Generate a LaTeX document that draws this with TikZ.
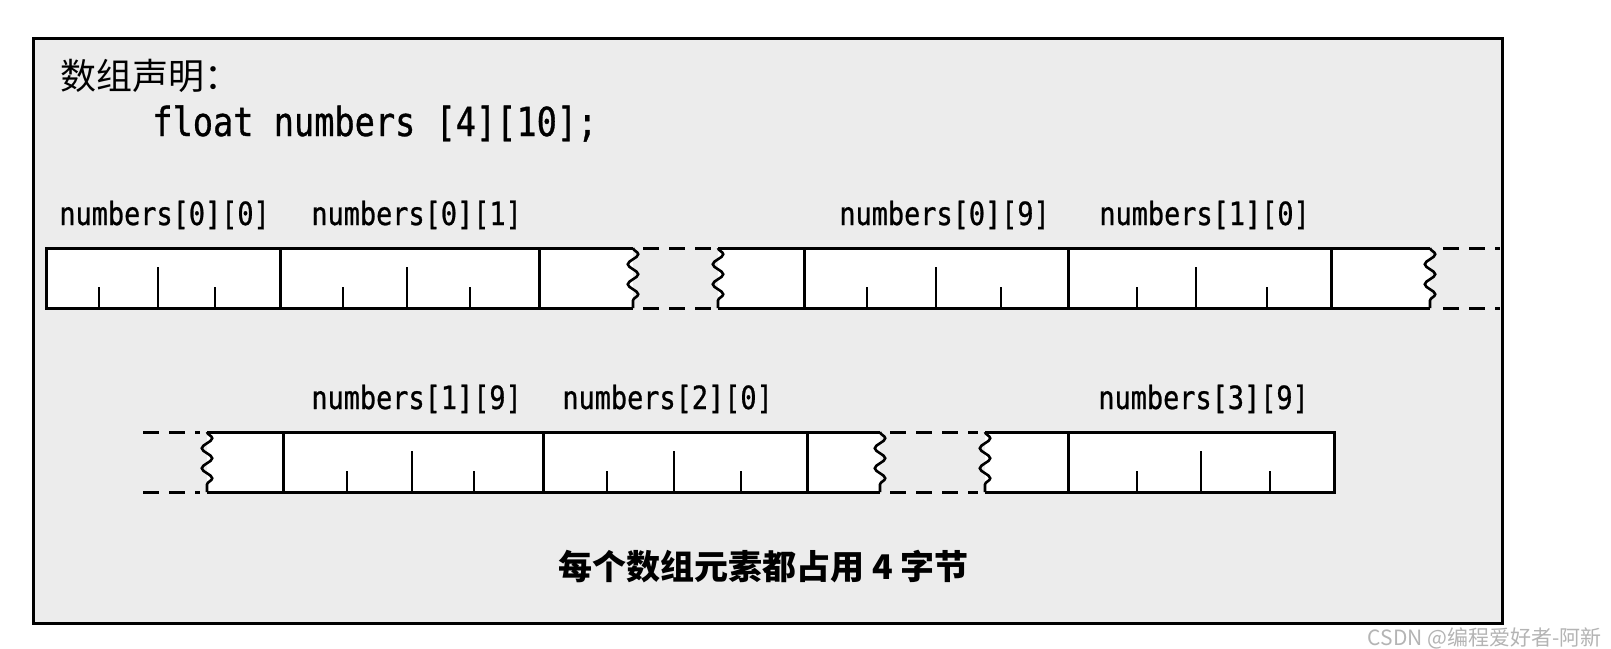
\documentclass[tikz,border=0pt]{standalone}
\usepackage{fontspec}
\usetikzlibrary{decorations.pathmorphing}
\newfontfamily\cjk{Noto Sans CJK SC}
\newfontfamily\codefont[FakeStretch=0.84,FakeBold=0.8]{DejaVu Sans Mono}
\definecolor{panel}{RGB}{236,236,236}
\definecolor{wm}{RGB}{180,180,180}
\begin{document}
\begin{tikzpicture}[x=0.5pt,y=-0.5pt,
  cellline/.style={line width=1.5pt},
  tickline/.style={line width=1.3pt},
  zig/.style={line width=1.3pt, decorate, decoration={snake, segment length=10pt, amplitude=2.6pt}},
  dashline/.style={line width=1.5pt, dash pattern=on 8pt off 5pt},
  lbl/.style={font=\codefont\fontsize{16}{16}\selectfont, inner sep=0pt, anchor=base west},
]
\useasboundingbox (0,0) rectangle (1611,648);
\fill[white] (0,0) rectangle (1611,648);
\draw[line width=1.5pt, fill=panel] (33,38) rectangle (1502,623);

% heading
\node[font=\cjk\fontsize{18}{18}\selectfont, inner sep=0pt, anchor=base west] (decl) at (60,89) {数组声明：};
\node[font=\codefont\fontsize{20}{20}\selectfont, inner sep=0pt, anchor=base west] (code) at (152,136) {float numbers [4][10];};

% ---------- row 1 ----------
\fill[white] (46,248) rectangle (633,308);
\fill[white] (718,248) rectangle (1430,308);
\draw[cellline] (633,248) -- (46,248) -- (46,308) -- (633,308);
\draw[cellline] (718,248) -- (1430,248);
\draw[cellline] (718,308) -- (1430,308);
\draw[zig] (633,248) -- (633,308);
\draw[zig] (718,248) -- (718,308);
\draw[zig] (1430,248) -- (1430,308);
\foreach \x in {280,539,804,1068,1331} \draw[cellline] (\x,248) -- (\x,308);
\foreach \x in {158,407,936,1196} \draw[tickline] (\x,308) -- (\x,267);
\foreach \x in {99,215,343,470,867,1001,1137,1267} \draw[tickline] (\x,308) -- (\x,287);
\draw[dashline] (643,248) -- (712,248);
\draw[dashline] (643,308) -- (712,308);
\draw[dashline] (1443,248) -- (1500,248);
\draw[dashline] (1443,308) -- (1500,308);

\node[lbl] (n00) at (59,225) {numbers[0][0]};
\node[lbl] (n01) at (311,225) {numbers[0][1]};
\node[lbl] (n09) at (839,225) {numbers[0][9]};
\node[lbl] (n10) at (1099,225) {numbers[1][0]};

% ---------- row 2 ----------
\fill[white] (207,432) rectangle (880,492);
\fill[white] (985,432) rectangle (1334,492);
\draw[cellline] (207,432) -- (880,432);
\draw[cellline] (207,492) -- (880,492);
\draw[cellline] (985,432) -- (1334,432) -- (1334,492) -- (985,492);
\draw[zig] (207,432) -- (207,492);
\draw[zig] (880,432) -- (880,492);
\draw[zig] (985,432) -- (985,492);
\foreach \x in {283,543,807,1068} \draw[cellline] (\x,432) -- (\x,492);
\foreach \x in {412,674,1201} \draw[tickline] (\x,492) -- (\x,451);
\foreach \x in {347,474,607,741,1137,1270} \draw[tickline] (\x,492) -- (\x,471);
\draw[dashline] (143,432) -- (200,432);
\draw[dashline] (143,492) -- (200,492);
\draw[dashline] (890,432) -- (978,432);
\draw[dashline] (890,492) -- (978,492);

\node[lbl] (n19) at (311,409) {numbers[1][9]};
\node[lbl] (n20) at (562,409) {numbers[2][0]};
\node[lbl] (n39) at (1098,409) {numbers[3][9]};

% caption
\node[font=\cjk\bfseries\fontsize{17}{17}\selectfont, inner sep=0pt, anchor=base west] (note) at (558,579) {每个数组元素都占用 4 字节};

% watermark
\node[font=\cjk\fontsize{10.5}{10.5}\selectfont, text=wm, inner sep=0pt, anchor=base east] (mark) at (1602,645) {CSDN @编程爱好者-阿新};
\end{tikzpicture}
\end{document}
